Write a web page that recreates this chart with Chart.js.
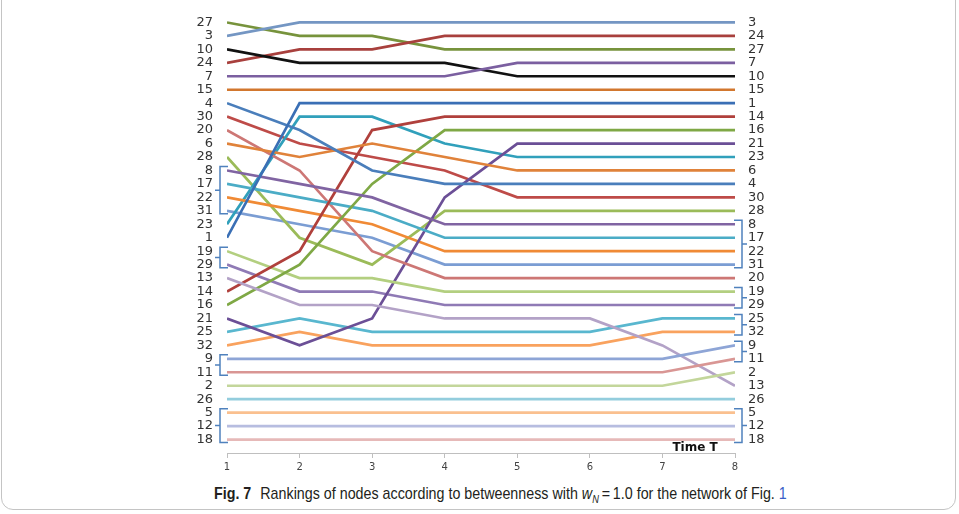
<!DOCTYPE html>
<html>
<head>
  <script src="https://cdn.jsdelivr.net/npm/chart.js"></script>
  <style>
    body { margin: 0; background: #fff; width: 959px; height: 514px; overflow: hidden; position: relative; }
    #frame { position: absolute; left: 1px; top: -14px; width: 955px; height: 524px; border: 1px solid #c4c4c4; border-radius: 12px; box-sizing: border-box; }
    #chart { position: absolute; left: 0; top: 0; }
    #caption { position: absolute; left: 214px; top: 484px; font-family: "Liberation Sans", Arial, sans-serif; font-size: 17px; color: #231f20; white-space: nowrap; transform: scaleX(0.84); transform-origin: left top; }
    #caption b { margin-right: 6px; }
    #caption a { color: #3a5fc8; text-decoration: none; }
  </style>
</head>
<body>
<div id="frame"></div>
<canvas id="chart" width="959" height="476"></canvas>
<div id="caption"><b>Fig. 7</b> Rankings of nodes according to betweenness with <i>w</i><sub style="font-size:11px"><i>N</i></sub>&thinsp;=&thinsp;1.0 for the network of Fig. <a>1</a></div>

<script>
// time steps on the x axis
const times = [1, 2, 3, 4, 5, 6, 7, 8];

// rank of each node at time 1..8
const n1  = [17, 7, 7, 7, 7, 7, 7, 7];
const n2  = [28, 28, 28, 28, 28, 28, 28, 27];
const n3  = [2, 1, 1, 1, 1, 1, 1, 1];
const n4  = [7, 9, 12, 13, 13, 13, 13, 13];
const n5  = [30, 30, 30, 30, 30, 30, 30, 30];
const n6  = [10, 11, 10, 11, 12, 12, 12, 12];
const n7  = [5, 5, 5, 5, 4, 4, 4, 4];
const n8  = [12, 13, 14, 16, 16, 16, 16, 16];
const n9  = [26, 26, 26, 26, 26, 26, 26, 25];
const n10 = [3, 4, 4, 4, 5, 5, 5, 5];
const n11 = [27, 27, 27, 27, 27, 27, 27, 26];
const n12 = [31, 31, 31, 31, 31, 31, 31, 31];
const n13 = [20, 22, 22, 23, 23, 23, 25, 28];
const n14 = [21, 18, 9, 8, 8, 8, 8, 8];
const n15 = [6, 6, 6, 6, 6, 6, 6, 6];
const n16 = [22, 19, 13, 9, 9, 9, 9, 9];
const n17 = [13, 14, 15, 17, 17, 17, 17, 17];
const n18 = [32, 32, 32, 32, 32, 32, 32, 32];
const n19 = [18, 20, 20, 21, 21, 21, 21, 21];
const n20 = [9, 12, 18, 20, 20, 20, 20, 20];
const n21 = [23, 25, 23, 14, 10, 10, 10, 10];
const n22 = [14, 15, 16, 18, 18, 18, 18, 18];
const n23 = [16, 8, 8, 10, 11, 11, 11, 11];
const n24 = [4, 3, 3, 2, 2, 2, 2, 2];
const n25 = [24, 23, 24, 24, 24, 24, 23, 23];
const n26 = [29, 29, 29, 29, 29, 29, 29, 29];
const n27 = [1, 2, 2, 3, 3, 3, 3, 3];
const n28 = [11, 17, 19, 15, 15, 15, 15, 15];
const n29 = [19, 21, 21, 22, 22, 22, 22, 22];
const n30 = [8, 10, 11, 12, 14, 14, 14, 14];
const n31 = [15, 16, 17, 19, 19, 19, 19, 19];
const n32 = [25, 24, 25, 25, 25, 25, 24, 24];

// node names at each side, top to bottom
const leftLabels  = ["27","3","10","24","7","15","4","30","20","6","28","8","17","22","31","23","1","19","29","13","14","16","21","25","32","9","11","2","26","5","12","18"];
const rightLabels = ["3","24","27","7","10","15","1","14","16","21","23","6","4","30","28","8","17","22","31","20","19","29","25","32","9","11","2","13","26","5","12","18"];

// bracketed groups (rank from, rank to)
const leftGroups  = [[12, 15], [18, 19], [26, 27], [30, 32]];
const rightGroups = [[16, 19], [21, 22], [23, 24], [25, 26], [30, 32]];

const nodeRanks = { 1: n1, 2: n2, 3: n3, 4: n4, 5: n5, 6: n6, 7: n7, 8: n8, 9: n9, 10: n10,
  11: n11, 12: n12, 13: n13, 14: n14, 15: n15, 16: n16, 17: n17, 18: n18, 19: n19, 20: n20,
  21: n21, 22: n22, 23: n23, 24: n24, 25: n25, 26: n26, 27: n27, 28: n28, 29: n29, 30: n30,
  31: n31, 32: n32 };

const colors = {
  1: "#3a6fb5", 2: "#c3d69b", 3: "#7496c3", 4: "#4a7ebb", 5: "#fac08f", 6: "#e0823a",
  7: "#7b5fa0", 8: "#8064a2", 9: "#8ea5d6", 10: "#111111", 11: "#d99694", 12: "#b7bde0",
  13: "#b3a2c7", 14: "#b0403c", 15: "#d2772e", 16: "#7fa845", 17: "#4bacc6", 18: "#e6b9b8",
  19: "#b3cf80", 20: "#cd7775", 21: "#6b4f96", 22: "#f08a35", 23: "#31a0bb", 24: "#a8403d",
  25: "#59b7cf", 26: "#93cddd", 27: "#77933c", 28: "#9bbb59", 29: "#8f7ab5", 30: "#be4b48",
  31: "#7b9dd3", 32: "#f9a25e"
};

const datasets = Object.keys(nodeRanks).map(k => ({
  label: "Node " + k,
  data: times.map((t, i) => ({ x: t, y: nodeRanks[k][i] })),
  borderColor: colors[k],
  borderWidth: 2.7,
  pointRadius: 0,
  tension: 0,
  fill: false,
  yAxisID: "y"
}));

const rankTicks = s => { s.ticks = leftLabels.map((_, i) => ({ value: i + 1 })); };
const fitSide = w => s => { s.width = w; s.paddingTop = 0; s.paddingBottom = 0; };

// brackets + "Time T"
const extras = {
  id: "extras",
  afterDatasetsDraw(chart) {
    const ctx = chart.ctx;
    const ys = chart.scales.y;
    const xs = chart.scales.x;
    const L = chart.chartArea.left, R = chart.chartArea.right;
    ctx.save();
    ctx.strokeStyle = "#4f81bd";
    ctx.lineWidth = 1.5;
    leftGroups.forEach(([a, b]) => {
      const y1 = ys.getPixelForValue(a) - 4, y2 = ys.getPixelForValue(b) + 3;
      const vx = L - 7;
      ctx.beginPath();
      ctx.moveTo(L + 1, y1); ctx.lineTo(vx, y1); ctx.lineTo(vx, y2); ctx.lineTo(L + 1, y2);
      ctx.moveTo(vx, (y1 + y2) / 2); ctx.lineTo(vx - 5, (y1 + y2) / 2);
      ctx.stroke();
    });
    rightGroups.forEach(([a, b]) => {
      const y1 = ys.getPixelForValue(a) - 4, y2 = ys.getPixelForValue(b) + 3;
      const vx = R + 7;
      ctx.beginPath();
      ctx.moveTo(R - 1, y1); ctx.lineTo(vx, y1); ctx.lineTo(vx, y2); ctx.lineTo(R - 1, y2);
      ctx.moveTo(vx, (y1 + y2) / 2); ctx.lineTo(vx + 5, (y1 + y2) / 2);
      ctx.stroke();
    });
    ctx.fillStyle = "#111";
    ctx.font = "bold 12px 'DejaVu Sans'";
    ctx.textAlign = "center";
    ctx.textBaseline = "middle";
    ctx.fillText("Time T", xs.getPixelForValue(7.45), ys.getPixelForValue(32.65));
    ctx.restore();
  }
};

new Chart(document.getElementById("chart"), {
  type: "line",
  data: { datasets: datasets },
  options: {
    responsive: false,
    animation: false,
    devicePixelRatio: 1,
    layout: { padding: { top: 9, left: 0, right: 0, bottom: 0 } },
    plugins: { legend: { display: false }, tooltip: { enabled: false } },
    scales: {
      x: {
        type: "linear", min: 1, max: 8,
        afterFit: s => { s.height = 23; },
        ticks: { stepSize: 1, color: "#444", font: { family: "DejaVu Sans", size: 10 }, padding: 3 },
        grid: { display: true, drawOnChartArea: false, drawTicks: true, tickLength: 5, color: "#bfbfbf" },
        border: { display: true, color: "#bfbfbf" }
      },
      y: {
        type: "linear", position: "left", reverse: true, min: 0, max: 33,
        afterFit: fitSide(227),
        afterBuildTicks: rankTicks,
        ticks: { autoSkip: false, padding: 14, color: "#333", font: { family: "DejaVu Sans", size: 13 },
          callback: v => leftLabels[v - 1] || "" },
        grid: { display: false, drawTicks: false, tickLength: 0 },
        border: { display: false }
      },
      y2: {
        type: "linear", position: "right", reverse: true, min: 0, max: 33,
        afterFit: fitSide(224),
        afterBuildTicks: rankTicks,
        ticks: { autoSkip: false, padding: 13, color: "#333", font: { family: "DejaVu Sans", size: 13 },
          callback: v => rightLabels[v - 1] || "" },
        grid: { display: false, drawTicks: false, tickLength: 0 },
        border: { display: false }
      }
    }
  },
  plugins: [extras]
});
</script>

</body>
</html>
